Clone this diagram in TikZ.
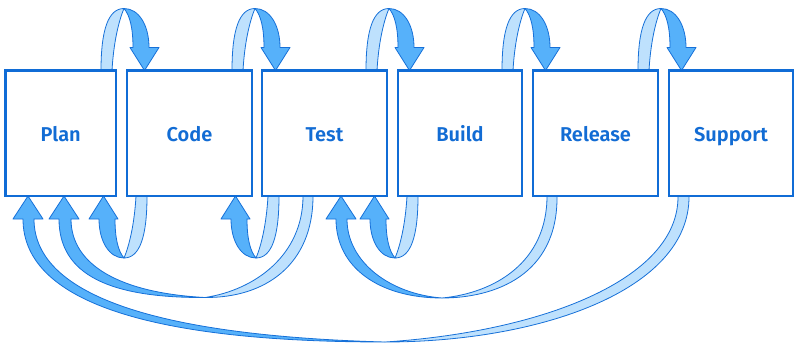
\documentclass[tikz,border=0pt]{standalone}
\usepackage{fontspec}
\setmainfont{Fira Sans}[BoldFont={* SemiBold}]
\usetikzlibrary{calc,backgrounds}

\definecolor{boxblue}{RGB}{16,108,214}
\definecolor{labelblue}{RGB}{18,108,212}
\definecolor{ribbonback}{RGB}{190,225,253}
\definecolor{ribbonfront}{RGB}{86,177,250}
\definecolor{ribbonedge}{RGB}{22,112,216}

\tikzset{
  stage/.style={draw=boxblue, line width=2.3pt, fill=white, inner sep=0pt,
    outer sep=0pt, minimum width=125pt, minimum height=125.5pt,
    text height=17pt, text depth=0pt,
    text=labelblue, font=\fontsize{20}{24}\selectfont\bfseries},
  backface/.style={fill=ribbonback, draw=ribbonedge, line width=0.8pt, line join=round},
  frontface/.style={fill=ribbonfront, draw=ribbonedge, line width=0.8pt, line join=round},
}

% half-twisted ribbon loop: back face rises from the source,
% front face with arrow head comes down into the next box
\newcommand\loopshape{%
  \path[backface] (0,0) .. controls (0,40) and (7,62) .. (23,62)
        .. controls (20,55) and (13,35) .. (11,0) -- cycle;
  \path[frontface] (23,62) .. controls (38,62) and (48,45) .. (48,23)
        -- (58,23) -- (43.5,0) -- (29,23) -- (32,23)
        .. controls (32,42) and (29,55) .. (23,62) -- cycle;
}

\begin{document}
\begin{tikzpicture}[x=1pt,y=-1pt]
\useasboundingbox (0,0) rectangle (795,348);

\node[stage, minimum width=110.5pt] (plan) at (60.75,133.25) {Plan};
\node[stage] (code)    at (189.5,133.25) {Code};
\node[stage] (test)    at (324.5,133.25) {Test};
\node[stage, minimum width=124pt] (build)   at (460,133.25) {Build};
\node[stage] (release) at (595.5,133.25) {Release};
\node[stage, minimum width=124pt] (support) at (731,133.25) {Support};

\begin{pgfonlayer}{background}
% loops over the top: each stage hands on to the next
\begin{scope}[shift={($(plan.north east)+(-15,0)$)}, yscale=-1]\loopshape\end{scope}
\begin{scope}[shift={($(code.north east)+(-20,0)$)}, yscale=-1]\loopshape\end{scope}
\begin{scope}[shift={($(test.north east)+(-21,0)$)}, yscale=-1]\loopshape\end{scope}
\begin{scope}[shift={($(build.north east)+(-20,0)$)}, yscale=-1]\loopshape\end{scope}
\begin{scope}[shift={($(release.north east)+(-20,0)$)}, yscale=-1]\loopshape\end{scope}

% short loops underneath: back to the previous stage
\begin{scope}[shift={($(code.south west)+(20,0)$)}, xscale=-1]\loopshape\end{scope}
\begin{scope}[shift={($(test.south west)+(17,0)$)}, xscale=-1]\loopshape\end{scope}
\begin{scope}[shift={($(build.south west)+(20,0)$)}, xscale=-1]\loopshape\end{scope}

% long return ribbons
\coordinate (t1) at (205,297.5);
\coordinate (t2) at (442,298);
\coordinate (t3) at (385,342);

% Test -> Plan
\path[backface] (313,196) .. controls (313,265) and (265,298) .. (t1)
      .. controls (255,290) and (303,255) .. (303,196) -- cycle;
\path[frontface] (t1) .. controls (110,298) and (59,275) .. (59,219)
      -- (49,219) -- (64,196) -- (79,219) -- (71,219)
      .. controls (71,265) and (120,293) .. (t1) -- cycle;

% Release -> Test
\path[backface] (557,196) .. controls (558,275) and (495,298) .. (t2)
      .. controls (495,293) and (547,262) .. (547,196) -- cycle;
\path[frontface] (t2) .. controls (380,298) and (336,268) .. (336,219)
      -- (326,219) -- (341,196) -- (356,219) -- (347,219)
      .. controls (347,262) and (390,294) .. (t2) -- cycle;

% Support -> Plan
\path[backface] (689,196) .. controls (690,290) and (540,342) .. (t3)
      .. controls (540,332) and (679,280) .. (678,196) -- cycle;
\path[frontface] (t3) .. controls (160,342) and (23,305) .. (23,219)
      -- (13,219) -- (28,196) -- (43,219) -- (34,219)
      .. controls (34,298) and (165,336) .. (t3) -- cycle;
\end{pgfonlayer}
\end{tikzpicture}
\end{document}
